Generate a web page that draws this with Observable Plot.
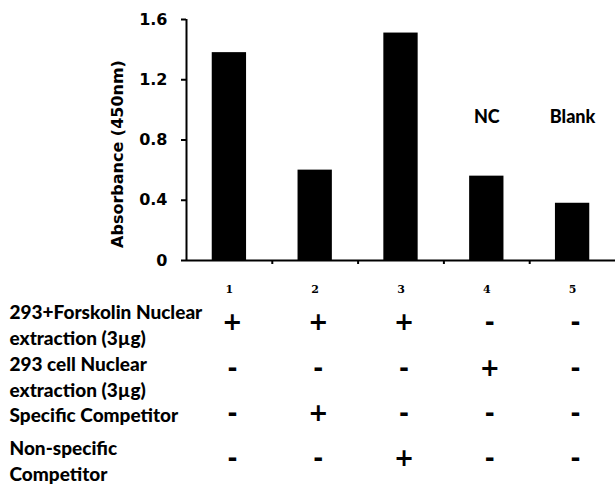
<!DOCTYPE html>
<html>
<head>
<meta charset="utf-8">
<script src="https://cdn.jsdelivr.net/npm/d3@7"></script>
<script src="https://cdn.jsdelivr.net/npm/@observablehq/plot@0.6"></script>
<style>
  html, body { margin: 0; padding: 0; background: #fff; }
  #chart svg { display: block; }
</style>
</head>
<body>
<div id="chart"></div>
<script>
// ---- data ----
const lanes = [1, 2, 3, 4, 5];
const absorbance = [1.38, 0.60, 1.51, 0.56, 0.38];
const laneNotes = ["", "", "", "NC", "Blank"];
const yTicks = [0, 0.4, 0.8, 1.2, 1.6];
const yLabel = "Absorbance (450nm)";
const conditionLabels = [
  "293+Forskolin Nuclear\nextraction (3\u00b5g)",
  "293 cell Nuclear\nextraction (3\u00b5g)",
  "Specific Competitor",
  "Non-specific\nCompetitor"
];
const conditionSigns = [
  ["+", "+", "+", "-", "-"],
  ["-", "-", "-", "+", "-"],
  ["-", "+", "-", "-", "-"],
  ["-", "-", "+", "-", "-"]
];

const bars = lanes.map((lane, i) => ({lane, value: absorbance[i]}));
const notes = lanes.map((lane, i) => ({lane, note: laneNotes[i]})).filter(d => d.note);
const rows = conditionLabels.map((label, i) => ({row: i + 1, label}));
const cells = conditionSigns.flatMap((signs, r) => signs.map((sign, c) => ({row: r + 1, lane: lanes[c], sign})));

const sansBold = "'DejaVu Sans', sans-serif";
const tableFont = "Lato, 'Open Sans', sans-serif";

// ---- chart ----
const chart = Plot.plot({
  width: 615,
  height: 270,
  marginLeft: 186,
  marginRight: 0,
  marginTop: 19,
  marginBottom: 10,
  style: {background: "#fff", color: "#000", fontFamily: sansBold},
  x: {type: "linear", domain: [0.5, 5.5]},
  y: {domain: [0, 1.6]},
  marks: [
    Plot.rectY(bars, {x1: d => d.lane - 0.2, x2: d => d.lane + 0.2, y: "value", fill: "#000"}),
    Plot.axisY({ticks: yTicks, tickFormat: d => d === 0 ? "0" : d.toFixed(1), tickSize: 5, tickPadding: 14,
      fontSize: 16, fontWeight: "bold", strokeWidth: 2, label: null}),
    Plot.axisX({ticks: lanes.slice(0, -1).map(l => l + 0.5), tickFormat: () => "", tickSize: 4, strokeWidth: 2, label: null}),
    Plot.ruleY([0], {strokeWidth: 2}),
    Plot.ruleX([0.5], {strokeWidth: 2}),
    Plot.text([yLabel], {frameAnchor: "left", textAnchor: "middle", rotate: -90, dx: -69, dy: 14, fontSize: 16, fontWeight: "bold", fontFamily: sansBold}),
    Plot.text(notes, {x: "lane", text: "note", frameAnchor: "top", dy: 91, fontSize: 18, fontWeight: 900, fontFamily: tableFont})
  ]
});

// ---- condition table ----
const table = Plot.plot({
  width: 615,
  height: 218,
  marginLeft: 186,
  marginRight: 0,
  marginTop: 52,
  marginBottom: 30,
  style: {background: "#fff", color: "#000"},
  x: {type: "linear", domain: [0.5, 5.5], axis: null},
  y: {domain: [1, 4], reverse: true, axis: null},
  marks: [
    Plot.text(lanes, {x: d => d, text: d => String(d), frameAnchor: "top", dy: -37, fontSize: 11, fontWeight: "bold", fontFamily: "'DejaVu Serif', serif"}),
    Plot.text(rows.filter(d => d.row !== 2), {y: "row", text: "label", frameAnchor: "left", textAnchor: "start", dx: -177, dy: 1,
      fontSize: 19, fontWeight: 900, fontFamily: tableFont, lineHeight: 1.35}),
    Plot.text(rows.filter(d => d.row === 2), {y: "row", text: "label", frameAnchor: "left", textAnchor: "start", dx: -177, dy: 8,
      fontSize: 19, fontWeight: 900, fontFamily: tableFont, lineHeight: 1.35}),
    Plot.text(cells, {x: "lane", y: "row", text: "sign", dx: 3, fontSize: 24, fontWeight: "bold", fontFamily: sansBold})
  ]
});

const root = document.getElementById("chart");
root.appendChild(chart);
root.appendChild(table);
</script>
</body>
</html>
